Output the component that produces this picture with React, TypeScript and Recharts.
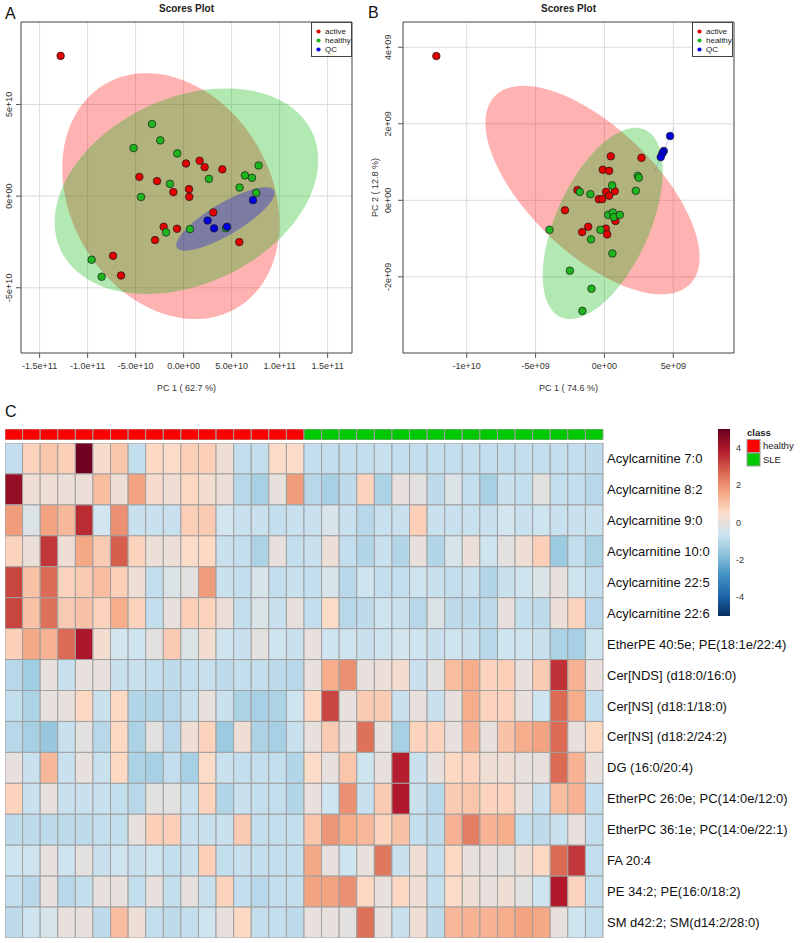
import React from 'react';
import {
  ScatterChart,
  Scatter,
  XAxis,
  YAxis,
  CartesianGrid,
  ReferenceArea,
  Legend,
} from 'recharts';

const FONT = '"Liberation Sans", Arial, Helvetica, sans-serif';

// ---------- Panel A scores (PC1, PC2 in units of 1e10)
const aActive = [
  [-12.81, 7.65], [-4.61, 1.05], [-2.77, 0.82], [-1.07, 0.22], [0.25, 1.78],
  [0.56, 0.38], [0.59, -0.04], [1.67, 1.93], [2.19, 1.58], [4.03, 1.46],
  [3.09, -0.89], [-2.08, -1.67], [-0.69, -1.78], [-2.98, -2.4], [5.8, -2.51],
  [-7.35, -3.26], [-6.52, -4.33],
];
const aHealthy = [
  [-3.29, 3.93], [-2.43, 3.04], [-5.21, 2.62], [-0.66, 2.33], [-1.42, 0.67],
  [2.64, 0.94], [-4.44, -0.05], [5.83, 0.47], [6.39, 1.13], [7.12, 1.0],
  [7.81, 1.67], [7.57, 0.18], [0.66, -1.8], [-1.83, -1.98], [4.41, -1.75],
  [-9.58, -3.47], [-8.54, -4.4],
];
const aQC = [[7.23, -0.22], [2.5, -1.33], [3.17, -1.76], [4.52, -1.67]];

const aXTicks = [-15, -10, -5, 0, 5, 10, 15];
const aXTickLabels = ['-1.5e+11', '-1.0e+11', '-5.0e+10', '0.0e+00', '5.0e+10', '1.0e+11', '1.5e+11'];
const aYTicks = [-5, 0, 5];
const aYTickLabels = ['-5e+10', '0e+00', '5e+10'];

// ---------- Panel B scores (PC1, PC2 in units of 1e9)
const bActive = [
  [-12.21, 3.77], [0.46, 1.15], [2.69, 1.11], [-0.12, 0.8], [0.34, 0.77],
  [-1.96, 0.27], [0.12, 0.22], [0.75, 0.24], [0.34, 0.12], [-0.41, 0.03],
  [-0.17, 0.03], [-2.87, -0.26], [0.8, -0.54], [-1.18, -0.69], [-1.62, -0.83],
  [0.1, -0.74], [0.2, -0.89],
];
const bHealthy = [
  [2.42, 0.64], [2.5, 0.59], [0.56, 0.39], [2.28, 0.25], [-1.79, 0.22],
  [-1.02, 0.16], [0.27, -0.38], [0.61, -0.32], [0.68, -0.44], [1.12, -0.38],
  [-3.99, -0.77], [-0.29, -0.77], [-0.97, -1.02], [0.58, -1.39], [-2.51, -1.84],
  [-0.94, -2.31], [-1.6, -2.89],
];
const bQC = [[4.77, 1.68], [4.31, 1.29], [4.21, 1.23], [4.09, 1.13]];

const bXTicks = [-10, -5, 0, 5];
const bXTickLabels = ['-1e+10', '-5e+09', '0e+00', '5e+09'];
const bYTicks = [-2, 0, 2, 4];
const bYTickLabels = ['-2e+09', '0e+00', '2e+09', '4e+09'];

const groupNames = ['active', 'healthy', 'QC'];
const pointColors = ['#e00000', '#1fb51f', '#0000dd'];
const ellipseColors = ['#ff0000', '#00b400', '#0000ff'];

// ---------- Panel C heatmap
const sampleClass = [
  'healthy', 'healthy', 'healthy', 'healthy', 'healthy', 'healthy', 'healthy', 'healthy', 'healthy',
  'healthy', 'healthy', 'healthy', 'healthy', 'healthy', 'healthy', 'healthy', 'healthy',
  'SLE', 'SLE', 'SLE', 'SLE', 'SLE', 'SLE', 'SLE', 'SLE', 'SLE',
  'SLE', 'SLE', 'SLE', 'SLE', 'SLE', 'SLE', 'SLE', 'SLE',
];
const lipidNames = [
  'Acylcarnitine 7:0',
  'Acylcarnitine 8:2',
  'Acylcarnitine 9:0',
  'Acylcarnitine 10:0',
  'Acylcarnitine 22:5',
  'Acylcarnitine 22:6',
  'EtherPE 40:5e; PE(18:1e/22:4)',
  'Cer[NDS] (d18:0/16:0)',
  'Cer[NS] (d18:1/18:0)',
  'Cer[NS] (d18:2/24:2)',
  'DG (16:0/20:4)',
  'EtherPC 26:0e; PC(14:0e/12:0)',
  'EtherPC 36:1e; PC(14:0e/22:1)',
  'FA 20:4',
  'PE 34:2; PE(16:0/18:2)',
  'SM d42:2; SM(d14:2/28:0)',
];
// z-scores, one row per lipid, one column per sample
const zScores = [
  [-0.8, 0.7, 1.0, 0.8, 4.9, 0.4, 1.0, -0.8, 0.6, 0.5, 0.8, 0.8, 0.2, -0.8, -0.8, 0.5, 0.5,
    -0.8, -0.8, -0.8, -0.8, -0.7, -0.8, -0.8, -0.8, -0.8, -0.8, -0.8, -0.8, -0.8, -0.8, -0.8, -0.8, -0.9],
  [4.3, 0.2, 0.2, 0.1, 0.1, 1.2, 0.2, 1.7, 0.4, 0.2, 0.6, 0.3, 0.1, -1.0, -1.3, 0.0, 1.8,
    -1.0, -1.3, -0.9, 0.7, -1.2, 0.0, -0.1, -0.9, -0.3, -0.8, -1.3, -0.7, -0.8, -0.1, -0.8, -0.8, -1.0],
  [1.8, -0.3, 1.7, 1.3, 3.6, -0.5, 2.0, -0.7, -0.7, -0.7, 0.8, 0.9, -0.5, -0.7, -0.7, -0.8, -0.7,
    -0.7, -0.4, -0.7, -1.0, -0.7, -0.7, 0.8, -0.7, -0.7, -0.7, -0.7, -0.5, -0.7, -0.6, -0.7, -0.7, -0.7],
  [0.7, 0.1, 3.4, 0.2, 1.6, 0.9, 2.8, 0.7, 0.1, 0.1, 0.5, 0.6, -0.7, -0.8, -1.2, 0.0, -0.8,
    -0.7, 0.1, -0.8, -1.1, -0.7, -1.1, 0.0, -1.1, -0.4, 0.1, -0.6, -0.1, 0.2, 0.8, -1.5, -0.8, -1.2],
  [3.2, 1.1, 2.6, 0.7, 0.9, 1.2, 0.8, 0.2, -0.8, -0.3, -0.1, 1.8, -0.7, -0.8, -0.4, -0.8, -0.7,
    -0.8, -0.4, -1.0, -0.6, -0.8, -0.8, -0.6, -0.7, -0.8, -0.7, -1.1, -0.7, -0.6, -0.3, 0.0, -0.6, -0.8],
  [3.2, 1.1, 2.5, 0.9, 1.1, 0.7, 1.5, 0.7, -0.8, 0.0, 0.8, 0.7, 0.1, -0.8, -0.3, -0.7, 0.0,
    -0.8, 0.5, -1.0, -0.9, -0.6, -0.7, -1.0, -0.3, -0.9, -0.9, -0.9, 0.0, -0.8, -0.9, 0.1, 0.7, -1.0],
  [0.8, 1.6, 1.4, 2.6, 4.0, 0.3, -0.5, -0.6, -0.1, 0.9, -0.3, 0.3, -0.6, -0.7, -0.1, -0.6, -0.7,
    0.0, -0.6, -0.6, -0.7, -0.6, -0.5, -0.6, -0.7, -0.6, -0.7, -1.0, -0.6, -0.6, -0.7, -1.2, -1.3, -0.6],
  [-1.0, -1.4, 0.0, -0.7, 0.0, 0.0, -0.7, -0.7, -0.8, -0.9, -0.8, -0.7, -0.9, -0.8, -0.8, -0.9, -1.0,
    0.0, 1.5, 2.0, 0.0, 0.1, 0.3, -0.7, -0.1, 1.2, 1.5, 0.7, 0.8, 0.0, 0.9, 3.5, 1.4, 0.0],
  [-0.8, -1.2, 0.0, 0.0, 0.6, -0.7, 0.6, -1.1, -1.1, -1.0, -0.7, 0.0, -0.7, -1.2, -1.3, -1.2, -0.6,
    0.6, 3.2, 0.0, 0.9, 0.9, -0.7, 0.0, -0.7, 0.0, 1.5, 0.7, 0.7, 0.0, -0.6, 2.6, 1.5, -0.8],
  [-1.0, -1.3, -1.6, -0.7, -0.1, -1.0, 0.6, -1.2, -0.1, -1.0, 0.2, 0.7, -1.5, 0.2, -1.2, -1.3, -0.7,
    0.0, 0.9, 0.0, 2.5, 0.0, -1.3, 0.7, 0.7, 0.0, 1.4, 0.0, 1.1, 1.5, 1.7, 2.6, 0.0, 0.6],
  [0.0, -0.7, 1.3, -0.7, 0.0, -0.7, 0.6, -1.2, -1.3, -0.8, -1.3, 0.5, -0.7, -0.8, -0.8, -0.8, -1.1,
    0.5, 0.0, 1.0, -0.6, 0.0, 3.8, -0.7, 0.0, 0.6, 0.7, 0.2, 0.2, 0.0, 0.0, 2.6, 1.4, 0.0],
  [0.7, -0.7, 0.0, -0.7, -0.7, -0.7, -0.8, -1.0, -0.1, -0.1, -0.7, 0.7, -1.1, -0.7, -0.8, -0.8, -1.1,
    0.0, -0.6, 2.0, -0.7, 0.9, 3.9, -0.7, -1.0, 0.9, 1.0, 0.7, 0.7, 0.0, -0.7, 1.2, 1.4, -0.8],
  [-0.9, -0.9, -0.9, -0.9, -0.9, -0.8, -0.8, 0.0, 0.8, 0.8, -0.7, -0.7, -0.7, 0.9, -0.8, -0.8, -0.8,
    1.0, 1.9, 1.5, 1.3, 0.7, 1.1, -0.8, -0.9, 1.4, 2.3, 1.4, 1.5, -0.8, -0.9, -0.7, 0.0, -0.8],
  [-0.6, -0.6, 0.0, -0.6, -0.1, -0.7, -0.6, -0.7, -0.6, -0.8, -0.7, 0.8, -0.8, -0.7, -0.8, -0.8, -0.8,
    1.6, 0.0, -0.6, 0.0, 2.4, -0.7, 0.2, -0.8, 0.6, 0.0, 0.0, -0.1, 0.2, 0.6, 2.6, 3.4, -0.8],
  [-0.8, -1.0, 0.0, -1.0, -0.8, 0.0, 0.0, -0.8, 0.0, -0.8, 0.0, -0.7, 0.7, -0.8, -1.0, -0.8, -0.8,
    1.7, 1.7, 2.0, 0.6, 0.0, 0.6, 0.2, -0.8, 0.5, 0.2, 0.0, 0.2, -0.1, -0.6, 3.9, 0.7, -0.8],
  [-0.9, -0.6, -0.4, 0.0, 0.0, -0.9, 1.2, 0.2, -0.8, -0.9, -0.8, -0.6, 0.0, 0.6, -0.8, -0.8, -0.9,
    0.0, 0.0, -0.1, 2.5, 0.0, -0.7, 0.2, -0.9, 1.3, 1.4, 1.4, 1.5, 1.7, 1.6, 0.0, -0.6, -0.8],
];
const colorbarTicks = [4, 2, 0, -2, -4];
const classNames = ['healthy', 'SLE'];
const classColors = ['#ff0000', '#00c800'];

// RdBu (10), blue -> red
const palette = ['#053061', '#2166AC', '#4393C3', '#92C5DE', '#D1E5F0', '#FDDBC7', '#F4A582', '#D6604D', '#B2182B', '#67001F'];
const HEAT_MIN = -5;
const HEAT_MAX = 5;

function hexRgb(h: string) {
  return [1, 3, 5].map((i) => parseInt(h.slice(i, i + 2), 16));
}
function heatColor(v: number) {
  const t = Math.max(0, Math.min(1, (v - HEAT_MIN) / (HEAT_MAX - HEAT_MIN)));
  const pos = t * (palette.length - 1);
  const i = Math.min(palette.length - 2, Math.floor(pos));
  const f = pos - i;
  const a = hexRgb(palette[i]);
  const b = hexRgb(palette[i + 1]);
  const c = a.map((x, k) => Math.round(x + (b[k] - x) * f));
  return `rgb(${c[0]},${c[1]},${c[2]})`;
}

// 95% confidence ellipse of a group (same construction as ellipse::ellipse)
function ellipse95(pts: number[][], n = 100) {
  const t = Math.sqrt(5.991464547);
  const m = pts.length;
  const mx = pts.reduce((s, p) => s + p[0], 0) / m;
  const my = pts.reduce((s, p) => s + p[1], 0) / m;
  let sxx = 0, syy = 0, sxy = 0;
  pts.forEach((p) => {
    sxx += (p[0] - mx) ** 2;
    syy += (p[1] - my) ** 2;
    sxy += (p[0] - mx) * (p[1] - my);
  });
  const sx = Math.sqrt(sxx / (m - 1));
  const sy = Math.sqrt(syy / (m - 1));
  const d = Math.acos(sxy / (m - 1) / (sx * sy));
  return Array.from({ length: n }, (_, i) => {
    const a = (2 * Math.PI * i) / (n - 1);
    return { x: t * sx * Math.cos(a + d / 2) + mx, y: t * sy * Math.cos(a - d / 2) + my };
  });
}

const toXY = (pts: number[][]) => pts.map((p) => ({ x: p[0], y: p[1] }));

const RotatedTick = (props: any) => {
  const { x, y, payload, ticks, labels } = props;
  const label = labels[ticks.indexOf(payload.value)];
  return (
    <text x={x} y={y} dy="0.35em" transform={`rotate(-90 ${x} ${y})`} textAnchor="middle"
      fontSize={9} fill="#333" fontFamily={FONT}>
      {label}
    </text>
  );
};

const RowLabel = (props: any) => {
  const { x, y, payload, bold, size, names } = props;
  return (
    <text x={x} y={y} dy="0.35em" textAnchor="start" fontSize={size} fontWeight={bold ? 'bold' : 'normal'}
      fill="#111" fontFamily={FONT}>
      {names[Math.floor(payload.value)]}
    </text>
  );
};

const ScoresLegend = (props: any) => {
  const items = (props.payload || [])
    .filter((p: any) => groupNames.includes(p.value))
    .sort((a: any, b: any) => groupNames.indexOf(a.value) - groupNames.indexOf(b.value));
  return (
    <div style={{ width: 41, height: 35, border: '1px solid #444', background: '#fff', boxSizing: 'border-box' }}>
      <svg width={41} height={35}>
        {items.map((it: any, i: number) => (
          <g key={it.value}>
            <circle cx={6.5} cy={8.5 + i * 9} r={2.1} fill={it.color} />
            <text x={13} y={8.5 + i * 9} dy="0.35em" fontSize={8} fill="#222" fontFamily={FONT}>{it.value}</text>
          </g>
        ))}
      </svg>
    </div>
  );
};

function ScoresPanel(props: any) {
  const { left, width, rightMargin, yAxisWidth, yTickMargin, groups, xDomain, yDomain,
    xTicks, xTickLabels, yTicks, yTickLabels, xTitle, yTitle, legendLeft } = props;
  return (
    <div style={{ position: 'absolute', left, top: 0 }}>
      <ScatterChart width={width} height={395} margin={{ top: 22, right: rightMargin, bottom: 0, left: 0 }}>
        <CartesianGrid stroke="#dcdcdc" strokeWidth={1} />
        <XAxis type="number" dataKey="x" domain={xDomain} allowDataOverflow ticks={xTicks} interval={0}
          tickFormatter={(v: number) => xTickLabels[xTicks.indexOf(v)]} height={42} tickSize={5} tickMargin={5}
          axisLine={false} tickLine={{ stroke: '#555' }}
          tick={{ fontSize: 9, fill: '#333', fontFamily: FONT }}
          label={{ value: xTitle, position: 'insideBottom', offset: 4, fontSize: 9, fill: '#333', fontFamily: FONT }} />
        <YAxis type="number" dataKey="y" domain={yDomain} allowDataOverflow ticks={yTicks} interval={0}
          width={yAxisWidth} tickSize={5} tickMargin={yTickMargin} axisLine={false} tickLine={{ stroke: '#555' }}
          tick={<RotatedTick ticks={yTicks} labels={yTickLabels} />}
          label={yTitle ? { value: yTitle, angle: -90, position: 'center', dx: -6.5, fontSize: 9, fill: '#333', fontFamily: FONT } : undefined} />
        {groups.map((g: any, i: number) => (
          <Scatter key={'e' + i} data={ellipse95(g)} isAnimationActive={false} legendType="none"
            shape={() => <g />}
            line={(lp: any) => (
              <path d={'M' + lp.points.map((p: any) => `${p.x},${p.y}`).join('L') + 'Z'}
                fill={ellipseColors[i]} fillOpacity={0.3} stroke="none" />
            )} />
        ))}
        {groups.map((g: any, i: number) => (
          <Scatter key={'p' + i} name={groupNames[i]} data={toXY(g)} fill={pointColors[i]} isAnimationActive={false}
            shape={(sp: any) => (
              <circle cx={sp.cx} cy={sp.cy} r={3.8} fill={pointColors[i]} stroke="#1a1a1a" strokeWidth={0.7} />
            )} />
        ))}
        <ReferenceArea x1={xDomain[0]} x2={xDomain[1]} y1={yDomain[0]} y2={yDomain[1]}
          fill="none" stroke="#555" strokeWidth={1} ifOverflow="visible" />
        <Legend verticalAlign="middle" align="center" layout="horizontal"
          wrapperStyle={{ left: legendLeft, top: 22, width: 41, height: 35 }} content={<ScoresLegend />} />
      </ScatterChart>
    </div>
  );
}

const HM_W = 598;
const HM_H = 495;
const CELL_W = HM_W / sampleClass.length;
const CELL_H = HM_H / lipidNames.length;

const heatData = zScores.flatMap((row, r) => row.map((v, c) => ({ x: c + 0.5, y: r + 0.5, v })));
const classData = sampleClass.map((cls, c) => ({ x: c + 0.5, y: 0.5, cls }));
const rowTicks = lipidNames.map((_, r) => r + 0.5);

export default function App() {
  return (
    <div style={{ position: 'relative', width: 800, height: 943, background: '#fff', fontFamily: FONT }}>
      <style>{'body{margin:0}'}</style>

      <ScoresPanel left={0} width={360} rightMargin={8} yAxisWidth={21} yTickMargin={7}
        groups={[aActive, aHealthy, aQC]} xDomain={[-16.94, 17.54]} yDomain={[-8.56, 9.5]}
        xTicks={aXTicks} xTickLabels={aXTickLabels} yTicks={aYTicks} yTickLabels={aYTickLabels}
        xTitle="PC 1 ( 62.7 %)" yTitle={null} legendLeft={311} />

      <ScoresPanel left={360} width={380} rightMargin={6} yAxisWidth={43} yTickMargin={10}
        groups={[bActive, bHealthy, bQC]} xDomain={[-14.63, 9.41]} yDomain={[-3.99, 4.66]}
        xTicks={bXTicks} xTickLabels={bXTickLabels} yTicks={bYTicks} yTickLabels={bYTickLabels}
        xTitle="PC 1 ( 74.6 %)" yTitle="PC 2 ( 12.8 %)" legendLeft={332} />

      {/* class annotation bar */}
      <div style={{ position: 'absolute', left: 5, top: 429 }}>
        <ScatterChart width={HM_W + 60} height={11} margin={{ top: 0, right: 0, bottom: 0, left: 0 }}>
          <XAxis type="number" dataKey="x" domain={[0, sampleClass.length]} hide />
          <YAxis type="number" dataKey="y" domain={[0, 1]} orientation="right" width={60} ticks={[0.5]}
            tickSize={0} tickMargin={4} axisLine={false} tickLine={false}
            tick={<RowLabel names={['class']} bold size={10} />} />
          <Scatter data={classData} isAnimationActive={false}
            shape={(p: any) => (
              <rect x={p.cx - CELL_W / 2} y={p.cy - 5.5} width={CELL_W} height={11}
                fill={classColors[classNames.indexOf(p.payload.cls)]} stroke="#a0a0a0" strokeWidth={1} />
            )} />
        </ScatterChart>
      </div>

      {/* heatmap */}
      <div style={{ position: 'absolute', left: 5, top: 443 }}>
        <ScatterChart width={HM_W + 195} height={HM_H} margin={{ top: 0, right: 0, bottom: 0, left: 0 }}>
          <XAxis type="number" dataKey="x" domain={[0, sampleClass.length]} hide />
          <YAxis type="number" dataKey="y" domain={[0, lipidNames.length]} reversed orientation="right" width={195}
            ticks={rowTicks} interval={0} tickSize={0} tickMargin={4} axisLine={false} tickLine={false}
            tick={<RowLabel names={lipidNames} size={13} />} />
          <Scatter data={heatData} isAnimationActive={false}
            shape={(p: any) => (
              <rect x={p.cx - CELL_W / 2} y={p.cy - CELL_H / 2} width={CELL_W} height={CELL_H}
                fill={heatColor(p.payload.v)} stroke="#a0a0a0" strokeWidth={1} />
            )} />
        </ScatterChart>
      </div>

      <svg width={800} height={943} style={{ position: 'absolute', left: 0, top: 0, pointerEvents: 'none' }}
        fontFamily={FONT}>
        <text x={5} y={19} fontSize={16} fill="#111">A</text>
        <text x={368} y={18} fontSize={16} fill="#111">B</text>
        <text x={5} y={417} fontSize={16} fill="#111">C</text>
        <text x={186.5} y={12} fontSize={10} fontWeight="bold" textAnchor="middle" fill="#222">Scores Plot</text>
        <text x={568.5} y={12} fontSize={10} fontWeight="bold" textAnchor="middle" fill="#222">Scores Plot</text>

        <defs>
          <linearGradient id="rdbu" x1="0" y1="1" x2="0" y2="0">
            {palette.map((c, i) => (
              <stop key={c} offset={i / (palette.length - 1)} stopColor={c} />
            ))}
          </linearGradient>
        </defs>
        <rect x={718} y={429} width={12} height={187} fill="url(#rdbu)" />
        {colorbarTicks.map((v) => (
          <text key={v} x={736} y={429 + ((HEAT_MAX - v) / (HEAT_MAX - HEAT_MIN)) * 187} dy="0.35em"
            fontSize={9} fill="#333">{v}</text>
        ))}

        <text x={747} y={435.5} fontSize={9.5} fontWeight="bold" fill="#222">class</text>
        {classNames.map((n, i) => (
          <g key={n}>
            <rect x={747} y={439.5 + i * 13.5} width={13} height={13} fill={classColors[i]} stroke="#a0a0a0" />
            <text x={763} y={446 + i * 13.5} dy="0.35em" fontSize={9.5} fill="#222">{n}</text>
          </g>
        ))}
      </svg>
    </div>
  );
}
